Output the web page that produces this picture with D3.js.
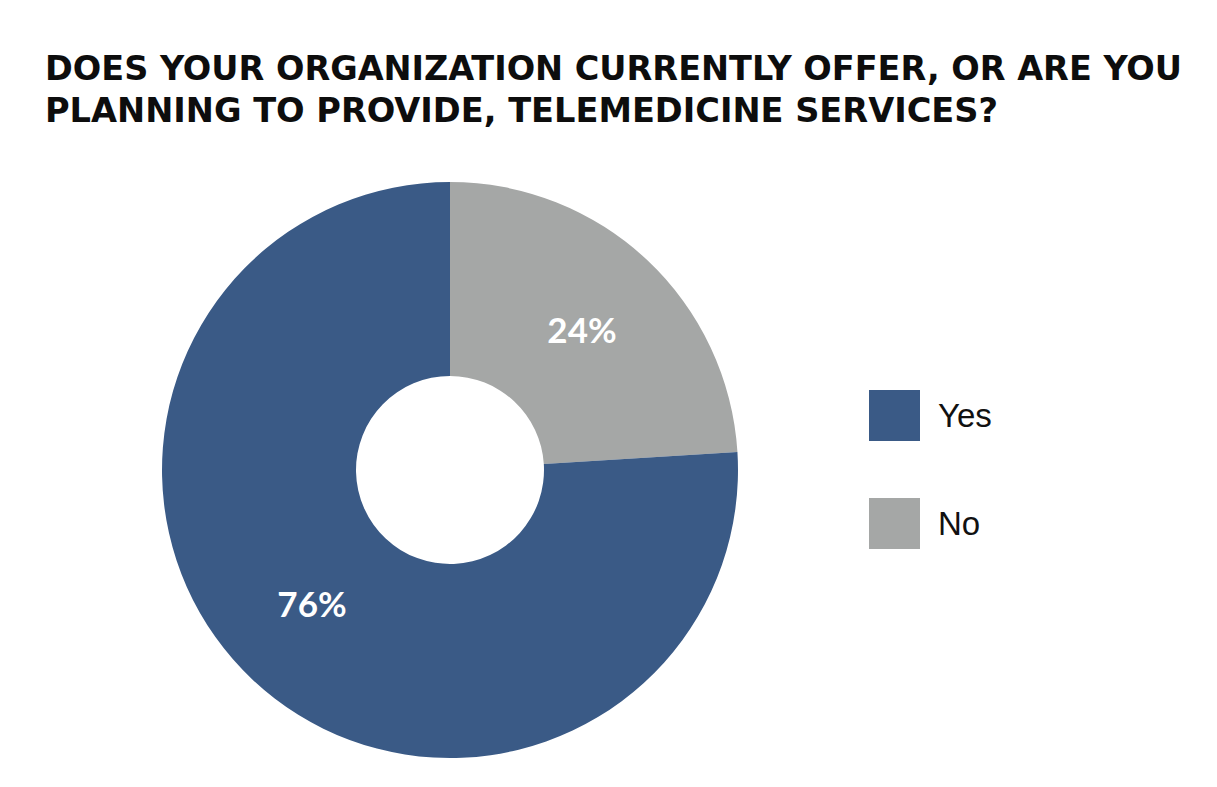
<!DOCTYPE html>
<html>
<head>
<meta charset="utf-8">
<script src="https://cdn.jsdelivr.net/npm/d3@7"></script>
<style>
  html, body { margin: 0; padding: 0; background: #ffffff; }
  svg { display: block; }
</style>
</head>
<body>
<svg id="chart" width="1217" height="787"></svg>
<script>
const titleLines = [
  "DOES YOUR ORGANIZATION CURRENTLY OFFER, OR ARE YOU",
  "PLANNING TO PROVIDE, TELEMEDICINE SERVICES?"
];
const categories = ["No", "Yes"];
const values = [24, 76];
const legendOrder = ["Yes", "No"];
const colors = { "Yes": "#3a5a86", "No": "#a5a7a6" };

const svg = d3.select("#chart");

// Title
svg.append("g").selectAll("text")
  .data(titleLines)
  .join("text")
  .attr("x", 45)
  .attr("y", (d, i) => 80 + i * 42)
  .attr("font-family", "'DejaVu Sans Condensed', 'Liberation Sans Narrow', sans-serif")
  .attr("font-weight", "bold")
  .attr("font-stretch", "condensed")
  .attr("font-size", 34)
  .attr("fill", "#0d0d0d")
  .attr("textLength", (d, i) => i === 0 ? 1137 : 953)
  .attr("lengthAdjust", "spacingAndGlyphs")
  .text(d => d);

// Donut
const cx = 450, cy = 470, R = 288, r = 94;
const data = categories.map((c, i) => ({ cat: c, value: values[i] }));
const pie = d3.pie().sort(null).value(d => d.value);
const arcs = pie(data);
const arc = d3.arc().innerRadius(r).outerRadius(R);

const g = svg.append("g").attr("transform", `translate(${cx},${cy})`);
g.selectAll("path")
  .data(arcs)
  .join("path")
  .attr("d", arc)
  .attr("fill", d => colors[d.data.cat]);

// Labels
const labelPos = { "No": [132, -127], "Yes": [-138, 147] };
g.selectAll("text.lbl")
  .data(arcs)
  .join("text")
  .attr("class", "lbl")
  .attr("x", d => labelPos[d.data.cat][0])
  .attr("y", d => labelPos[d.data.cat][1])
  .attr("text-anchor", "middle")
  .attr("font-family", "Lato, 'Open Sans', sans-serif")
  .attr("font-weight", "bold")
  .attr("font-size", 35)
  .attr("fill", "#ffffff")
  .text(d => d3.format(".0f")(d.data.value) + "%");

// Legend
const legend = svg.append("g");
const items = legend.selectAll("g")
  .data(legendOrder)
  .join("g")
  .attr("transform", (d, i) => `translate(869, ${390 + i * 108})`);
items.append("rect")
  .attr("width", 51)
  .attr("height", 51)
  .attr("fill", d => colors[d]);
items.append("text")
  .attr("x", 69)
  .attr("y", 37)
  .attr("font-family", "'Liberation Sans', Arial, sans-serif")
  .attr("font-size", 33)
  .attr("fill", "#111111")
  .text(d => d);
</script>
</body>
</html>
